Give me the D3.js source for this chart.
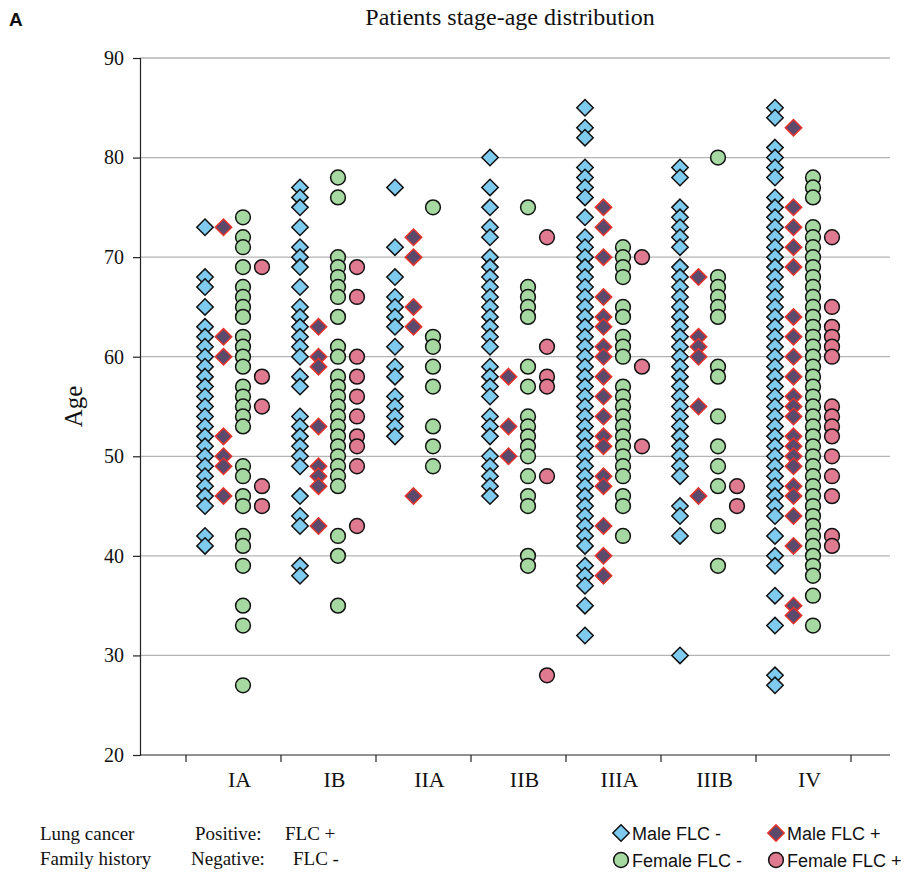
<!DOCTYPE html>
<html>
<head>
<meta charset="utf-8">
<script src="https://cdn.jsdelivr.net/npm/d3@7/dist/d3.min.js"></script>
<style>
  html, body { margin: 0; padding: 0; background: #fff; }
  svg { display: block; }
</style>
</head>
<body>
<div id="chart"></div>
<script>
// Stage groups along the x axis
const categories = ["IA", "IB", "IIA", "IIB", "IIIA", "IIIB", "IV"];
const yTicks = [20, 30, 40, 50, 60, 70, 80, 90];

// Patient ages per stage (one array per stage, same order as categories)
const maleNeg = [
  [73,68,67,65,63,62,61,60,59,58,57,56,55,54,53,52,51,50,49,48,47,46,45,42,41],
  [77,76,75,73,71,70,69,67,65,64,63,62,61,60,58,57,54,53,52,51,50,49,46,44,43,39,38],
  [77,71,68,66,65,64,63,61,59,58,56,55,54,53,52],
  [80,77,75,73,72,70,69,68,67,66,65,64,63,62,61,59,58,57,56,54,53,52,50,49,48,47,46],
  [85,83,82,79,78,77,76,74,72,71,70,69,68,67,66,65,64,63,62,61,60,59,58,57,56,55,54,53,52,51,50,49,48,47,46,45,44,43,42,41,39,38,37,35,32],
  [79,78,75,74,73,72,71,69,68,67,66,65,64,63,62,61,60,59,58,57,56,55,54,53,52,51,50,49,48,45,44,42,30],
  [85,84,81,80,79,78,76,75,74,73,72,71,70,69,68,67,66,65,64,63,62,61,60,59,58,57,56,55,54,53,52,51,50,49,48,47,46,45,44,42,40,39,36,33,28,27]
];
const malePos = [
  [73,62,60,52,50,49,46],
  [63,60,59,53,49,48,47,43],
  [72,70,65,63,46],
  [58,53,50],
  [75,73,70,66,64,63,61,60,58,56,54,52,51,48,47,43,40,38],
  [68,62,61,60,55,46],
  [83,75,73,71,69,64,62,60,58,56,55,54,52,51,50,49,47,46,44,41,35,34]
];
const femaleNeg = [
  [74,72,71,69,67,66,65,64,62,61,60,59,57,56,55,54,53,49,48,46,45,42,41,39,35,33,27],
  [78,76,70,69,68,67,66,64,61,60,58,57,56,55,54,53,52,51,50,49,48,47,42,40,35],
  [75,62,61,59,57,53,51,49],
  [75,67,66,65,64,59,57,54,53,52,51,50,48,46,45,40,39],
  [71,70,69,68,65,64,62,61,60,57,56,55,54,53,52,51,50,49,48,46,45,42],
  [80,68,67,66,65,64,59,58,54,51,49,47,43,39],
  [78,77,76,73,72,71,70,69,68,67,66,65,64,63,62,61,60,59,58,57,56,55,54,53,52,51,50,49,48,47,46,45,44,43,42,41,40,39,38,36,33]
];
const femalePos = [
  [69,58,55,47,45],
  [69,66,60,58,56,54,52,51,49,43],
  [],
  [72,61,58,57,48,28],
  [70,59,51],
  [47,45],
  [72,65,63,62,61,60,55,54,53,52,50,48,46,42,41]
];

// Series styling: column offset inside each stage, marker shape and colours
const series = [
  { name: "Male FLC -",   data: maleNeg,   offset: -28.5, shape: "diamond", fill: "#7fcbef", stroke: "#111" },
  { name: "Male FLC +",   data: malePos,   offset: -10,   shape: "diamond", fill: "#5b4a6b", stroke: "#e8322b" },
  { name: "Female FLC -", data: femaleNeg, offset: 9.5,   shape: "circle",  fill: "#a6d9a2", stroke: "#111" },
  { name: "Female FLC +", data: femalePos, offset: 28.5,  shape: "circle",  fill: "#e07a90", stroke: "#111" }
];

const W = 911, H = 874;
const plotLeft = 140, plotRight = 890, plotTop = 58, plotBottom = 755;
const serif = "Liberation Serif, Times New Roman, serif";
const sans = "Liberation Sans, Arial, sans-serif";

const svg = d3.select("#chart").append("svg").attr("width", W).attr("height", H);

const y = d3.scaleLinear().domain([20, 90]).range([plotBottom, plotTop]);
const x = d3.scalePoint().domain(categories).range([233.5, 803.5]);

// Horizontal gridlines
svg.append("g").selectAll("line")
  .data(yTicks.filter(t => t > 20))
  .join("line")
  .attr("x1", plotLeft).attr("x2", plotRight)
  .attr("y1", d => y(d)).attr("y2", d => y(d))
  .attr("stroke", "#b4b4b4").attr("stroke-width", 1.3);

// Y axis
const yAxis = svg.append("g")
  .attr("transform", `translate(${plotLeft},0)`)
  .call(d3.axisLeft(y).tickValues(yTicks).tickSize(7).tickPadding(9));
yAxis.selectAll("text")
  .attr("font-family", serif)
  .attr("font-size", 20).attr("fill", "#111");
yAxis.selectAll("line, path").attr("stroke", "#222").attr("stroke-width", 1.2);

// X axis baseline with ticks between stage groups
const step = x.step();
svg.append("line")
  .attr("x1", plotLeft).attr("x2", plotRight).attr("y1", plotBottom).attr("y2", plotBottom)
  .attr("stroke", "#222").attr("stroke-width", 1.2);
const bounds = d3.range(categories.length + 1).map(i => x(categories[0]) - step / 2 + i * step);
svg.append("g").selectAll("line")
  .data(bounds)
  .join("line")
  .attr("x1", d => d).attr("x2", d => d)
  .attr("y1", plotBottom).attr("y2", plotBottom + 7)
  .attr("stroke", "#222").attr("stroke-width", 1.2);
svg.append("g").selectAll("text")
  .data(categories)
  .join("text")
  .attr("x", d => x(d) + 6)
  .attr("y", 787)
  .attr("text-anchor", "middle")
  .attr("font-family", serif)
  .attr("font-size", 22).attr("fill", "#111")
  .text(d => d);

// Axis title and chart title
svg.append("text")
  .attr("transform", `translate(82,${(plotTop + plotBottom) / 2}) rotate(-90)`)
  .attr("text-anchor", "middle")
  .attr("font-family", serif)
  .attr("font-size", 25).attr("fill", "#111")
  .text("Age");
svg.append("text")
  .attr("x", 510).attr("y", 25)
  .attr("text-anchor", "middle")
  .attr("font-family", serif)
  .attr("font-size", 24).attr("fill", "#111")
  .text("Patients stage-age distribution");
svg.append("text")
  .attr("x", 9).attr("y", 26)
  .attr("font-family", sans)
  .attr("font-weight", "bold")
  .attr("font-size", 19).attr("fill", "#111")
  .text("A");

// Marker paths
const diamond = "M0,-8.2L8.2,0L0,8.2L-8.2,0Z";
function drawMarker(g, shape, fill, stroke) {
  if (shape === "diamond") {
    g.append("path").attr("d", diamond)
      .attr("fill", fill).attr("stroke", stroke).attr("stroke-width", 1.5);
  } else {
    g.append("circle").attr("r", 7.4)
      .attr("fill", fill).attr("stroke", stroke).attr("stroke-width", 1.5);
  }
}

// Points, one column per series inside every stage group
series.forEach(s => {
  const pts = [];
  s.data.forEach((ages, i) => {
    ages.forEach(a => pts.push({ cat: categories[i], age: a }));
  });
  pts.sort((a, b) => b.age - a.age);
  const g = svg.append("g");
  pts.forEach(p => {
    const m = g.append("g").attr("transform", `translate(${x(p.cat) + s.offset},${y(p.age)})`);
    drawMarker(m, s.shape, s.fill, s.stroke);
  });
});

// Family-history note
const note = svg.append("g")
  .attr("font-family", serif)
  .attr("font-size", 19).attr("fill", "#111");
note.append("text").attr("x", 40).attr("y", 840).text("Lung cancer");
note.append("text").attr("x", 40).attr("y", 865).text("Family history");
note.append("text").attr("x", 195).attr("y", 840).text("Positive:");
note.append("text").attr("x", 191).attr("y", 865).text("Negative:");
note.append("text").attr("x", 285).attr("y", 840).text("FLC +");
note.append("text").attr("x", 293).attr("y", 865).text("FLC -");

// Legend
const legendItems = [
  { s: series[0], x: 621, y: 833 },
  { s: series[1], x: 776, y: 833 },
  { s: series[2], x: 621, y: 860 },
  { s: series[3], x: 776, y: 860 }
];
legendItems.forEach(it => {
  const g = svg.append("g").attr("transform", `translate(${it.x},${it.y})`);
  drawMarker(g, it.s.shape, it.s.fill, it.s.stroke);
  g.append("text").attr("x", 11).attr("y", 6.5)
    .attr("font-family", sans)
    .attr("font-size", 18).attr("fill", "#111")
    .text(it.s.name);
});
</script>
</body>
</html>
